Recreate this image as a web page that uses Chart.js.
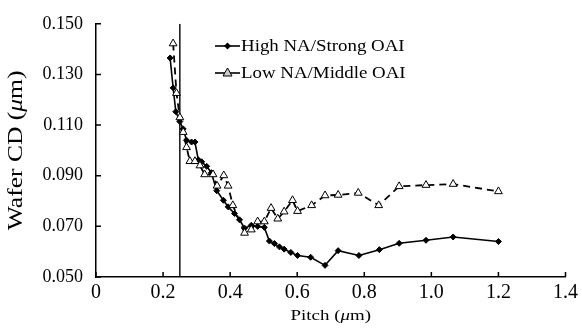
<!DOCTYPE html>
<html>
<head>
<meta charset="utf-8">
<script src="https://cdn.jsdelivr.net/npm/chart.js@4.4.1/dist/chart.umd.min.js"></script>
<style>
  html, body { margin: 0; padding: 0; background: #fff; }
  #wrap { width: 582px; height: 329px; }
</style>
</head>
<body>
<div id="wrap"><canvas id="c" width="582" height="329"></canvas></div>
<script>
// High NA / Strong OAI (solid, diamonds)
const highPitch = [0.221, 0.230, 0.238, 0.250, 0.260, 0.270, 0.285, 0.295, 0.305, 0.315, 0.330, 0.344, 0.360, 0.380, 0.394, 0.413, 0.428, 0.443, 0.463, 0.482, 0.502, 0.517, 0.532, 0.547, 0.561, 0.581, 0.601, 0.640, 0.683, 0.722, 0.784, 0.845, 0.904, 0.984, 1.065, 1.200];
const highCD    = [0.1365, 0.1247, 0.1153, 0.1114, 0.1085, 0.1040, 0.1033, 0.1033, 0.0963, 0.0955, 0.0937, 0.0912, 0.0841, 0.0803, 0.0777, 0.0751, 0.0726, 0.0693, 0.0704, 0.0700, 0.0696, 0.0642, 0.0632, 0.0619, 0.0610, 0.0597, 0.0585, 0.0578, 0.0546, 0.0604, 0.0585, 0.0608, 0.0633, 0.0645, 0.0658, 0.0640];

// Low NA / Middle OAI (dashed, open triangles)
const lowPitch = [0.230, 0.240, 0.250, 0.260, 0.270, 0.280, 0.295, 0.310, 0.324, 0.349, 0.361, 0.381, 0.394, 0.408, 0.443, 0.463, 0.482, 0.502, 0.522, 0.542, 0.561, 0.586, 0.601, 0.643, 0.683, 0.722, 0.782, 0.843, 0.904, 0.984, 1.065, 1.200];
const lowCD    = [0.1422, 0.1226, 0.1130, 0.1072, 0.1012, 0.0957, 0.0957, 0.0940, 0.0905, 0.0905, 0.0860, 0.0901, 0.0860, 0.0783, 0.0674, 0.0687, 0.0719, 0.0719, 0.0772, 0.0730, 0.0758, 0.0803, 0.0760, 0.0783, 0.0822, 0.0824, 0.0832, 0.0783, 0.0858, 0.0863, 0.0867, 0.0838];

// vertical marker line
const markerPitch = 0.25;

const legendLabels = ['High NA/Strong OAI', 'Low NA/Middle OAI'];
const xTitle = ['Pitch (', 'μ', 'm)'];
const yTitle = ['Wafer CD (', 'μ', 'm)'];

const SERIF = "'Liberation Serif', 'Times New Roman', serif";
const toPts = (xs, ys) => xs.map((x, i) => ({ x, y: ys[i] }));

// text pieces, middle one italic, centred on the origin and stretched a bit sideways
function drawMixed(ctx, parts, size, sx) {
  const fonts = parts.map((_, i) => (i === 1 ? 'italic ' : '') + size + 'px ' + SERIF);
  let total = 0;
  const widths = parts.map((p, i) => { ctx.font = fonts[i]; const w = ctx.measureText(p).width; total += w; return w; });
  ctx.scale(sx, 1);
  let x = -total / 2;
  parts.forEach((p, i) => { ctx.font = fonts[i]; ctx.fillText(p, x, 0); x += widths[i]; });
}

const extras = {
  id: 'extras',
  afterDraw(chart) {
    const { ctx, chartArea: a, scales } = chart;
    ctx.save();
    // inward ticks
    ctx.strokeStyle = '#000';
    ctx.lineWidth = 1.5;
    ctx.beginPath();
    scales.x.ticks.forEach((t) => {
      const px = scales.x.getPixelForValue(t.value);
      ctx.moveTo(px, a.bottom); ctx.lineTo(px, a.bottom - 5);
    });
    scales.y.ticks.forEach((t) => {
      const py = scales.y.getPixelForValue(t.value);
      ctx.moveTo(a.left, py); ctx.lineTo(a.left + 5, py);
    });
    ctx.stroke();

    // axis titles
    ctx.fillStyle = '#000';
    ctx.textBaseline = 'middle';
    ctx.textAlign = 'left';
    ctx.save();
    ctx.translate((a.left + a.right) / 2, 316);
    drawMixed(ctx, xTitle, 15.5, 1.22);
    ctx.restore();
    ctx.save();
    ctx.translate(16, (a.top + a.bottom) / 2);
    ctx.rotate(-Math.PI / 2);
    drawMixed(ctx, yTitle, 22, 1.16);
    ctx.restore();

    // legend
    const lx = 215, rows = [46, 73];
    rows.forEach((ry, i) => {
      ctx.lineWidth = 1.6;
      ctx.setLineDash([]);
      ctx.beginPath(); ctx.moveTo(lx, ry); ctx.lineTo(lx + 25, ry); ctx.stroke();
      ctx.beginPath();
      if (i === 0) {
        ctx.moveTo(lx + 12.5, ry - 3.5); ctx.lineTo(lx + 16, ry); ctx.lineTo(lx + 12.5, ry + 3.5); ctx.lineTo(lx + 9, ry);
        ctx.closePath(); ctx.fillStyle = '#000'; ctx.fill();
      } else {
        ctx.moveTo(lx + 12.5, ry - 5); ctx.lineTo(lx + 17, ry + 3); ctx.lineTo(lx + 8, ry + 3);
        ctx.closePath(); ctx.fillStyle = '#ccc'; ctx.fill(); ctx.lineWidth = 1; ctx.stroke();
      }
      ctx.fillStyle = '#000';
      ctx.save();
      ctx.translate(lx + 26, ry + 1);
      ctx.scale(1.18, 1);
      ctx.font = '16px ' + SERIF;
      ctx.fillText(legendLabels[i], 0, 0);
      ctx.restore();
    });
    ctx.restore();
  },
};

new Chart(document.getElementById('c'), {
  type: 'scatter',
  data: {
    datasets: [
      {
        label: legendLabels[1],
        data: toPts(lowPitch, lowCD),
        showLine: true,
        borderColor: '#000',
        borderWidth: 1.8,
        borderDash: [7, 5],
        pointStyle: 'triangle',
        pointRadius: 4.5,
        pointBackgroundColor: '#fff',
        pointBorderColor: '#000',
        pointBorderWidth: 1,
      },
      {
        label: legendLabels[0],
        data: toPts(highPitch, highCD),
        showLine: true,
        borderColor: '#000',
        borderWidth: 1.6,
        pointStyle: 'rectRot',
        pointRadius: 3,
        pointBackgroundColor: '#000',
        pointBorderColor: '#000',
        pointBorderWidth: 1,
      },
      {
        label: 'marker',
        data: [{ x: markerPitch, y: 0.05 }, { x: markerPitch, y: 0.15 }],
        showLine: true,
        borderColor: '#000',
        borderWidth: 1.4,
        pointRadius: 0,
      },
    ],
  },
  options: {
    responsive: false,
    animation: false,
    devicePixelRatio: 1,
    layout: { padding: { top: 17, right: 14, left: 0, bottom: 0 } },
    plugins: { legend: { display: false }, tooltip: { enabled: false } },
    scales: {
      x: {
        type: 'linear',
        min: 0, max: 1.4,
        afterFit: (s) => { s.height = 52; },
        border: { color: '#000', width: 1.5 },
        grid: { display: false, drawTicks: false },
        ticks: {
          stepSize: 0.2,
          padding: 4,
          color: '#000',
          font: { family: SERIF, size: 20 },
          callback: (v) => (v === 0 ? '0' : v.toFixed(1)),
        },
      },
      y: {
        min: 0.05, max: 0.15,
        afterFit: (s) => { s.width = 96; },
        border: { color: '#000', width: 1.5 },
        grid: { display: false, drawTicks: false },
        ticks: {
          stepSize: 0.02,
          padding: 13,
          color: '#000',
          font: { family: SERIF, size: 18 },
          callback: (v) => v.toFixed(3),
        },
      },
    },
  },
  plugins: [extras],
});
</script>
</body>
</html>
